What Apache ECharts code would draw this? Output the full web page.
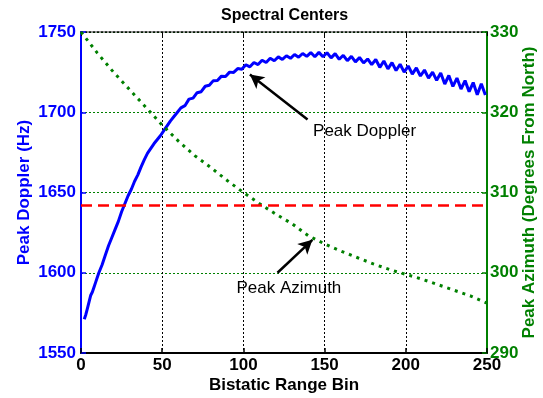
<!DOCTYPE html>
<html>
<head>
<meta charset="utf-8">
<script src="https://cdn.jsdelivr.net/npm/echarts@6/dist/echarts.min.js"></script>
<style>
  html, body { margin: 0; padding: 0; background: #fff; }
  #chart { width: 543px; height: 398px; }
</style>
</head>
<body>
<div id="chart"></div>
<script>
// Peak Doppler (Hz) per bistatic range bin
const dopplerPoints = [
  [2, 1571], [3, 1574], [4, 1578], [5, 1582], [6, 1586], [7, 1588], [8, 1591],
  [9, 1594], [10, 1597], [11, 1600], [13, 1605], [15, 1611], [17, 1617],
  [19, 1622], [21, 1627], [23, 1632], [25, 1638], [27, 1643], [29, 1648],
  [31, 1652], [33, 1657], [35, 1661], [37, 1666], [39, 1670.5], [41, 1674.5],
  [43, 1677.5], [45, 1680.5], [47, 1683], [49, 1685.5], [51, 1688.5], [53, 1691.5],
  [55, 1694.5], [57, 1697], [59, 1699.5],
  [61.5, 1702.7], [64, 1704.1], [66.5, 1708.2], [69, 1708.8], [71.5, 1712.2],
  [74, 1712.8], [76.5, 1716.2], [79, 1716.8], [81.5, 1719.7], [84, 1719.8],
  [86.5, 1722.5], [89, 1722.3], [91.5, 1725.0], [94, 1724.8], [96.5, 1727.2],
  [99, 1726.8], [101.5, 1729.6], [104, 1728.3], [106.5, 1731.0], [109, 1729.7],
  [111.5, 1732.4], [114, 1731.0], [116.5, 1733.6], [119, 1732.1], [121.5, 1734.5],
  [124, 1732.9], [126.5, 1735.2], [129, 1733.6], [131.5, 1736.0], [134, 1734.3],
  [136.5, 1736.6], [139, 1734.8], [141.5, 1737.2], [144, 1734.6], [146.5, 1737.3],
  [149, 1734.6], [151.5, 1737.1], [154, 1733.9], [156.5, 1736.5], [159, 1733.0],
  [161.5, 1735.5], [164, 1732.1], [166.5, 1734.8], [169, 1731.4], [171.5, 1734.1],
  [174, 1730.7], [176.5, 1733.2], [179, 1729.7], [181.5, 1732.9], [184, 1728.0],
  [186.5, 1731.9], [189, 1727.0], [191.5, 1730.9], [194, 1726.0], [196.5, 1729.9],
  [199, 1725.0], [201.5, 1728.8], [204, 1723.8], [206.5, 1727.6], [209, 1722.6],
  [211.5, 1726.3], [214, 1721.3], [216.5, 1725.0], [219, 1719.9], [221.5, 1724.4],
  [224, 1717.6], [226.5, 1722.9], [229, 1716.1], [231.5, 1721.3], [234, 1714.5],
  [236.5, 1719.7], [239, 1712.8], [241.5, 1718.5], [244, 1710.9], [246.5, 1717.8],
  [249, 1710.7]
];

// Peak azimuth (degrees from north), every 10 bins
const azimuthBins = [0, 10, 20, 30, 40, 50, 60, 70, 80, 90, 100, 110, 120, 130,
  140, 150, 160, 170, 180, 190, 200, 210, 220, 230, 240, 250];
const azimuthDeg = [330.0, 327.4, 325.0, 322.8, 320.6, 318.4, 316.4, 314.6, 313.1,
  311.5, 310.0, 308.6, 307.3, 306.1, 304.6, 303.6, 302.7, 301.9, 301.1, 300.4,
  299.8, 299.2, 298.5, 297.8, 297.1, 296.2];

const thresholdHz = 1642;

// annotation arrows [tail, head] in data units
const dopplerArrow = [[139.5, 1695.5], [104, 1723.5]];
const azimuthArrow = [[121, 300], [142.5, 304.1]];
const dopplerLabelAt = [174.6, 1688];
const azimuthLabelAt = [128, 298];

const FONT = 'Arial, "Liberation Sans", Helvetica, sans-serif';
const BLUE = '#0000ff';
const GREEN = '#008000';

const chart = echarts.init(document.getElementById('chart'));

const plain = v => String(v);

const option = {
  animation: false,
  textStyle: { fontFamily: FONT },
  title: {
    text: 'Spectral Centers',
    left: 216,
    top: 3,
    textStyle: { fontFamily: FONT, fontSize: 16, fontWeight: 'bold', color: '#000' }
  },
  grid: { left: 81, right: 56, top: 32, bottom: 45, outerBoundsMode: 'none', containLabel: false },
  xAxis: [
    {
      type: 'value',
      min: 0, max: 250, interval: 50,
      name: 'Bistatic Range Bin',
      nameLocation: 'middle',
      nameGap: 24,
      nameMoveOverlap: false,
      nameTextStyle: { fontFamily: FONT, fontSize: 17, fontWeight: 'bold', color: '#000' },
      axisLine: { onZero: false, lineStyle: { color: '#000', width: 2 } },
      axisTick: { inside: true, length: 5, lineStyle: { color: '#000', width: 1.5 } },
      axisLabel: { fontFamily: FONT, fontSize: 17, fontWeight: 'bold', color: '#000', margin: 4, formatter: plain },
      splitLine: { show: true, lineStyle: { color: '#000', type: [2, 2], width: 1 } }
    },
    {
      type: 'value',
      position: 'top',
      min: 0, max: 250, interval: 50,
      axisLine: { onZero: false, lineStyle: { color: '#000', type: [2, 2], width: 1.5 } },
      axisTick: { inside: true, length: 4, lineStyle: { color: '#000' } },
      axisLabel: { show: false },
      splitLine: { show: false }
    }
  ],
  yAxis: [
    {
      type: 'value',
      min: 1550, max: 1750, interval: 50,
      position: 'left',
      name: 'Peak Doppler (Hz)',
      nameLocation: 'middle',
      nameGap: 48,
      nameMoveOverlap: false,
      nameTextStyle: { fontFamily: FONT, fontSize: 17, fontWeight: 'bold', color: BLUE },
      axisLine: { show: true, onZero: false, lineStyle: { color: BLUE, width: 2 } },
      axisTick: { show: true, inside: true, length: 5, lineStyle: { color: BLUE, width: 1.5 } },
      axisLabel: { fontFamily: FONT, fontSize: 17, fontWeight: 'bold', color: BLUE, margin: 5, formatter: plain },
      splitLine: { show: false }
    },
    {
      type: 'value',
      min: 290, max: 330, interval: 10,
      position: 'right',
      name: 'Peak Azimuth (Degrees From North)',
      nameLocation: 'middle',
      nameGap: 34,
      nameRotate: 90,
      nameMoveOverlap: false,
      nameTextStyle: { fontFamily: FONT, fontSize: 17, fontWeight: 'bold', color: GREEN },
      axisLine: { show: true, onZero: false, lineStyle: { color: GREEN, width: 2 } },
      axisTick: { show: true, inside: true, length: 5, lineStyle: { color: GREEN, width: 1.5 } },
      axisLabel: { fontFamily: FONT, fontSize: 17, fontWeight: 'bold', color: GREEN, margin: 3, formatter: plain },
      splitLine: { show: true, lineStyle: { color: GREEN, type: [2, 2], width: 1 } }
    }
  ],
  series: [
    {
      name: 'Peak Doppler',
      type: 'line',
      xAxisIndex: 0,
      yAxisIndex: 0,
      data: dopplerPoints,
      showSymbol: false,
      symbol: 'none',
      lineStyle: { color: BLUE, width: 3 },
      z: 3,
      markLine: {
        silent: true,
        symbol: ['none', 'none'],
        label: { show: false },
        lineStyle: { color: '#ff0000', type: [11, 6], width: 2.5 },
        data: [{ yAxis: thresholdHz }]
      }
    },
    {
      name: 'Peak Doppler arrow',
      type: 'line',
      yAxisIndex: 0,
      data: [],
      markLine: {
        silent: true,
        symbol: ['none', 'arrow'],
        symbolSize: [11, 14],
        label: { show: false },
        lineStyle: { color: '#000', type: 'solid', width: 2.5 },
        data: [[{ coord: dopplerArrow[0] }, { coord: dopplerArrow[1] }]]
      },
      markPoint: {
        silent: true,
        symbol: 'circle',
        symbolSize: 0,
        label: { show: true, position: 'inside', fontFamily: FONT, fontSize: 17, color: '#000', formatter: 'Peak Doppler' },
        data: [{ coord: dopplerLabelAt }]
      }
    },
    {
      name: 'Peak Azimuth',
      type: 'line',
      xAxisIndex: 0,
      yAxisIndex: 1,
      data: azimuthBins.map((b, i) => [b, azimuthDeg[i]]),
      showSymbol: false,
      symbol: 'none',
      lineStyle: { color: GREEN, width: 3, type: [3, 5], cap: 'butt' },
      z: 4,
      markLine: {
        silent: true,
        symbol: ['none', 'arrow'],
        symbolSize: [11, 14],
        label: { show: false },
        lineStyle: { color: '#000', type: 'solid', width: 2.5 },
        data: [[{ coord: azimuthArrow[0] }, { coord: azimuthArrow[1] }]]
      },
      markPoint: {
        silent: true,
        symbol: 'circle',
        symbolSize: 0,
        label: { show: true, position: 'inside', fontFamily: FONT, fontSize: 17, color: '#000', formatter: 'Peak Azimuth' },
        data: [{ coord: azimuthLabelAt }]
      }
    }
  ]
};

chart.setOption(option);
</script>
</body>
</html>
